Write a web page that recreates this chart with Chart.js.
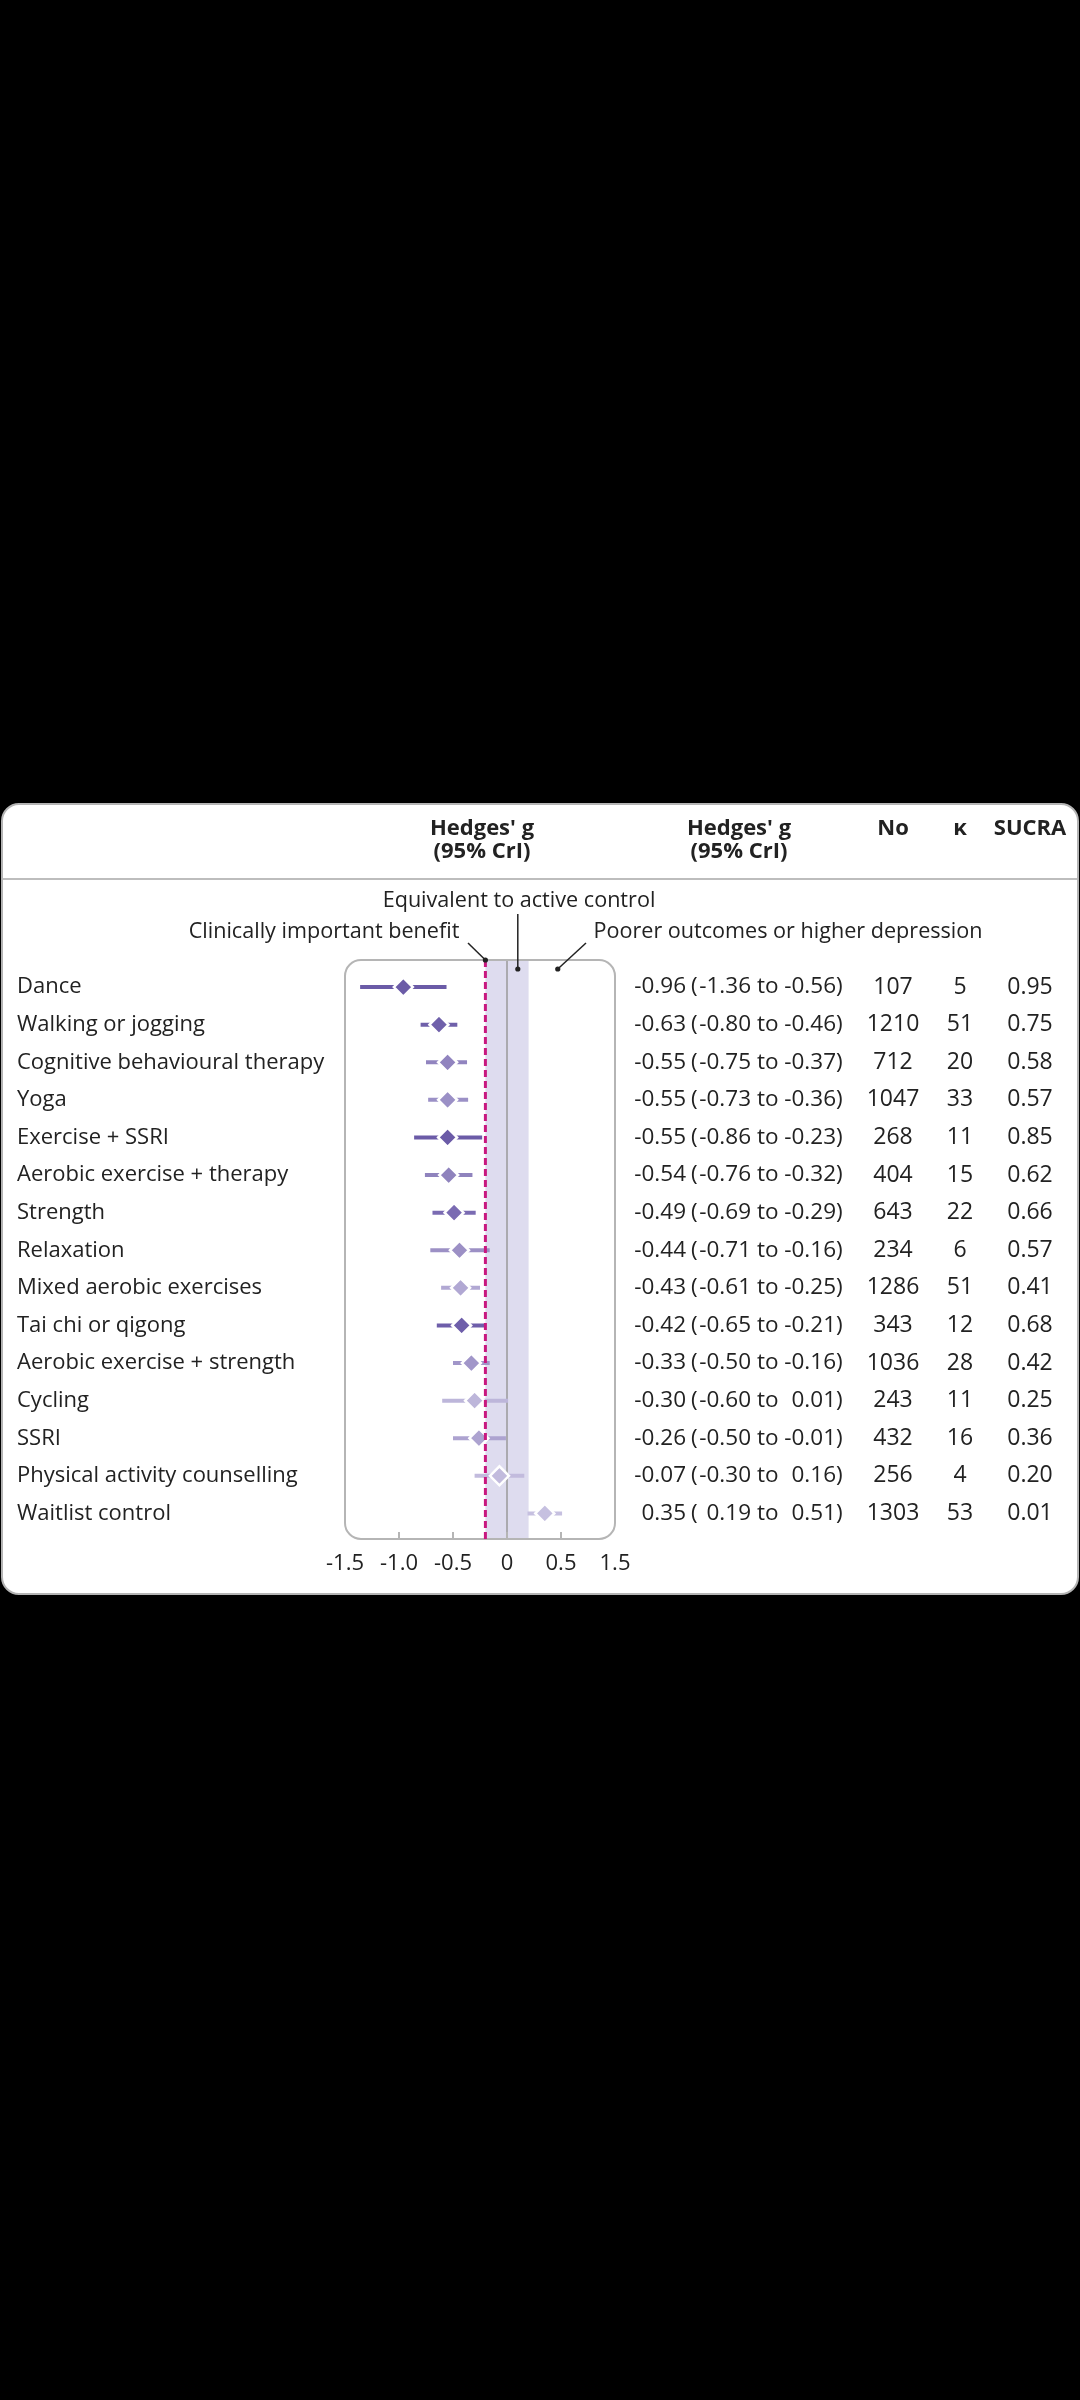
<!DOCTYPE html>
<html>
<head>
<meta charset="utf-8">
<script src="https://cdn.jsdelivr.net/npm/chart.js@4.4.1/dist/chart.umd.min.js"></script>
<style>
  html, body { margin: 0; padding: 0; background: #000; }
  body { width: 1080px; height: 2400px; position: relative; overflow: hidden; }
  .panel {
    position: absolute; left: 1px; top: 803px;
    width: 1074px; height: 788px;
    background: #fff; border: 2px solid #b4b4b4; border-radius: 18px;
  }
  .panel .rule { position: absolute; left: 0; right: 0; top: 73px; height: 2px; background: #bdbdbd; }
  #wrap { position: absolute; left: 0; top: 0; width: 1080px; height: 2400px; }
</style>
</head>
<body>
<div class="panel"><div class="rule"></div></div>
<div id="wrap"><canvas id="forest" width="1080" height="2400"></canvas></div>

<script>
// ---- data ----
const categories = [
  "Dance", "Walking or jogging", "Cognitive behavioural therapy", "Yoga",
  "Exercise + SSRI", "Aerobic exercise + therapy", "Strength", "Relaxation",
  "Mixed aerobic exercises", "Tai chi or qigong", "Aerobic exercise + strength",
  "Cycling", "SSRI", "Physical activity counselling", "Waitlist control"
];
const estimates = [-0.96, -0.63, -0.55, -0.55, -0.55, -0.54, -0.49, -0.44, -0.43, -0.42, -0.33, -0.30, -0.26, -0.07, 0.35];
const lower     = [-1.36, -0.80, -0.75, -0.73, -0.86, -0.76, -0.69, -0.71, -0.61, -0.65, -0.50, -0.60, -0.50, -0.30, 0.19];
const upper     = [-0.56, -0.46, -0.37, -0.36, -0.23, -0.32, -0.29, -0.16, -0.25, -0.21, -0.16, 0.01, -0.01, 0.16, 0.51];
const participants = [107, 1210, 712, 1047, 268, 404, 643, 234, 1286, 343, 1036, 243, 432, 256, 1303];
const trials       = [5, 51, 20, 33, 11, 15, 22, 6, 51, 12, 28, 11, 16, 4, 53];
const sucra        = [0.95, 0.75, 0.58, 0.57, 0.85, 0.62, 0.66, 0.57, 0.41, 0.68, 0.42, 0.25, 0.36, 0.20, 0.01];
const xTickLabels  = ["-1.5", "-1.0", "-0.5", "0", "0.5", "1.5"];
const clinicalBenefit = -0.2;
const equivalenceBand = [-0.2, 0.2];

// marker shade per row (darker = more certain evidence in the source)
const rowColors = [
  "#6b5ba7", "#6f60aa", "#9184bf", "#9b90c6", "#6b5ba7", "#8f83bd", "#7a6bb2", "#9c90c5",
  "#b1a8d3", "#6e5eaa", "#a196c9", "#bdb6da", "#ada3d0", "#c2bbdd", "#c6c0e0"
];

const FONT = "'Open Sans', 'DejaVu Sans', sans-serif";
const INK = "#222";

const fmt = (v) => v.toFixed(2);

// ---- plugin: band, reference lines, box, annotations and the side table ----
const forestDecor = {
  id: "forestDecor",
  beforeDatasetsDraw(chart) {
    const { ctx, chartArea: a, scales: { x } } = chart;
    ctx.save();
    // equivalence band
    ctx.fillStyle = "#dedcef";
    const b0 = x.getPixelForValue(equivalenceBand[0]);
    const b1 = x.getPixelForValue(equivalenceBand[1]);
    ctx.fillRect(b0, a.top, b1 - b0, a.bottom - a.top);
    // zero line
    ctx.strokeStyle = "#9a9a9a";
    ctx.lineWidth = 1.5;
    ctx.beginPath();
    ctx.moveTo(x.getPixelForValue(0), a.top);
    ctx.lineTo(x.getPixelForValue(0), a.bottom);
    ctx.stroke();
    // rounded plot box
    ctx.strokeStyle = "#b5b5b5";
    ctx.lineWidth = 2;
    ctx.beginPath();
    ctx.roundRect(a.left, a.top, a.right - a.left, a.bottom - a.top, 16);
    ctx.stroke();
    // small inner ticks on the bottom edge
    x.ticks.forEach((t, i) => {
      if (i === 0 || i === x.ticks.length - 1) return;
      const px = x.getPixelForValue(t.value);
      ctx.beginPath();
      ctx.moveTo(px, a.bottom);
      ctx.lineTo(px, a.bottom - 7);
      ctx.stroke();
    });
    ctx.restore();
  },
  afterDatasetsDraw(chart) {
    const { ctx, chartArea: a, scales: { x } } = chart;
    ctx.save();
    // clinically important benefit line
    const cx = x.getPixelForValue(clinicalBenefit);
    ctx.strokeStyle = "#c8187f";
    ctx.lineWidth = 3;
    ctx.setLineDash([7, 4]);
    ctx.beginPath();
    ctx.moveTo(cx, a.top);
    ctx.lineTo(cx, a.bottom);
    ctx.stroke();
    ctx.setLineDash([]);

    // leader lines with dots
    ctx.strokeStyle = INK;
    ctx.fillStyle = INK;
    ctx.lineWidth = 1.5;
    const leader = (x0, y0, x1, y1) => {
      ctx.beginPath();
      ctx.moveTo(x0, y0);
      ctx.lineTo(x1, y1);
      ctx.stroke();
      ctx.beginPath();
      ctx.arc(x1, y1, 2.6, 0, Math.PI * 2);
      ctx.fill();
    };
    leader(468, 943, cx, a.top);
    const ex = x.getPixelForValue(0.1);
    leader(ex, 914, ex, a.top + 9);
    leader(586, 943, x.getPixelForValue(0.47), a.top + 9);
    ctx.restore();
  },
  afterDraw(chart) {
    const { ctx, scales: { y } } = chart;
    ctx.save();
    ctx.fillStyle = INK;
    ctx.textBaseline = "middle";

    // header
    ctx.font = "bold 22px " + FONT;
    ctx.textAlign = "center";
    ctx.fillText("Hedges' g", 482, 829);
    ctx.fillText("(95% CrI)", 482, 852);
    ctx.fillText("Hedges' g", 739, 829);
    ctx.fillText("(95% CrI)", 739, 852);
    ctx.fillText("No", 893, 829);
    ctx.fillText("\u03BA", 960, 829);
    ctx.fillText("SUCRA", 1030, 829);

    // annotations
    ctx.font = "21.6px " + FONT;
    ctx.fillText("Equivalent to active control", 519, 901);
    ctx.fillText("Clinically important benefit", 324, 932);
    ctx.fillText("Poorer outcomes or higher depression", 788, 932);

    categories.forEach((name, i) => {
      const py = y.getPixelForValue(i);
      // row label
      ctx.font = "22px " + FONT;
      ctx.textAlign = "left";
      ctx.fillText(name, 17, py);

      // estimate (CrI) column, pieces aligned like the source
      ctx.font = "22.5px " + FONT;
      ctx.textAlign = "right";
      ctx.fillText(fmt(estimates[i]), 686, py);
      ctx.textAlign = "left";
      ctx.fillText("(", 691, py);
      ctx.textAlign = "right";
      ctx.fillText(fmt(lower[i]), 751, py);
      ctx.textAlign = "left";
      ctx.fillText("to", 757, py);
      ctx.textAlign = "right";
      ctx.fillText(fmt(upper[i]), 836, py);
      ctx.textAlign = "left";
      ctx.fillText(")", 836, py);

      ctx.font = "23px " + FONT;
      ctx.textAlign = "center";
      ctx.fillText(String(participants[i]), 893, py);
      ctx.fillText(String(trials[i]), 960, py);
      ctx.fillText(fmt(sucra[i]), 1030, py);
    });
    ctx.restore();
  }
};

// ---- datasets built from the arrays ----
const ciSets = categories.map((name, i) => ({
  label: name + " CrI",
  data: [{ x: lower[i], y: i }, { x: upper[i], y: i }],
  showLine: true,
  borderColor: rowColors[i],
  borderWidth: 4,
  borderCapStyle: "butt",
  pointRadius: 0,
  order: 2
}));

const diamondSet = {
  label: "Hedges' g",
  data: estimates.map((v, i) => ({ x: v, y: i })),
  pointStyle: "rectRot",
  pointRadius: 9.5,
  pointBackgroundColor: rowColors,
  pointBorderColor: "#ffffff",
  pointBorderWidth: 2.5,
  order: 1
};

new Chart(document.getElementById("forest"), {
  type: "scatter",
  data: { datasets: [diamondSet, ...ciSets] },
  options: {
    responsive: false,
    animation: false,
    events: [],
    layout: { padding: { left: 345, right: 465, top: 960, bottom: 818.6 } },
    plugins: { legend: { display: false }, tooltip: { enabled: false } },
    scales: {
      x: {
        type: "linear",
        min: -1.5,
        max: 1.0,
        grid: { display: false },
        border: { display: false },
        ticks: {
          stepSize: 0.5,
          maxRotation: 0,
          autoSkip: false,
          padding: 4,
          color: INK,
          font: { family: FONT, size: 22 },
          callback: (v, idx) => xTickLabels[idx]
        }
      },
      y: {
        type: "linear",
        min: -0.72,
        max: 14.68,
        reverse: true,
        display: false
      }
    }
  },
  plugins: [forestDecor]
});
</script>
</body>
</html>
